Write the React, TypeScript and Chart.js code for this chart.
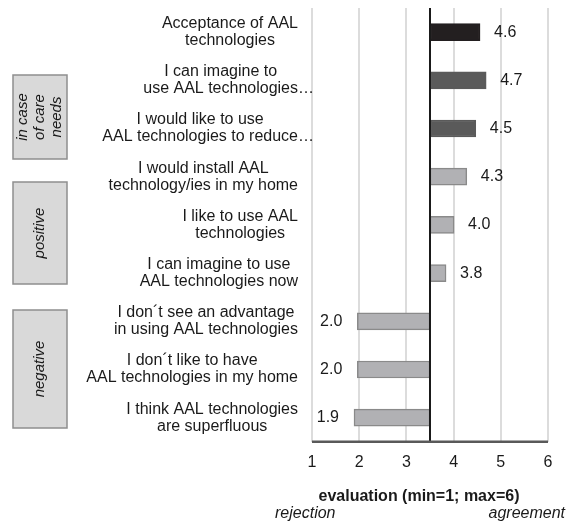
import React, { useEffect, useRef } from "react";
import { Chart, registerables } from "chart.js";

Chart.register(...registerables);

const categories: string[][] = [
  ["Acceptance of AAL", "technologies"],
  ["I can imagine to", "use AAL technologies…"],
  ["I would like to use", "AAL technologies to reduce…"],
  ["I would install AAL", "technology/ies in my home"],
  ["I like to use AAL", "technologies"],
  ["I can imagine to use", "AAL technologies now"],
  ["I don´t see an advantage", "in using AAL technologies"],
  ["I don´t like to have", "AAL technologies in my home"],
  ["I think AAL technologies", "are superfluous"],
];
const values: number[] = [4.56, 4.69, 4.47, 4.28, 4.01, 3.84, 1.96, 1.96, 1.89];
const baseline = 3.5;
const groupLabels: string[][] = [["in case", "of care", "needs"], ["positive"], ["negative"]];
const xTicks = [1, 2, 3, 4, 5, 6];
const axisTitle = "evaluation (min=1; max=6)";
const leftEnd = "rejection";
const rightEnd = "agreement";

// layout (pixels) for the group boxes: [top, bottom]
const groupBoxes: [number, number][] = [
  [75, 159],
  [182, 284],
  [310, 428],
];

const FONT = "'Liberation Sans', Arial, sans-serif";
const barFill = ["#231f20", "#5a5a5a", "#5a5a5a", "#b1b1b4", "#b1b1b4", "#b1b1b4", "#b1b1b4", "#b1b1b4", "#b1b1b4"];
const barBorder = ["#231f20", "#5a5a5a", "#5a5a5a", "#8a8a8a", "#8a8a8a", "#8a8a8a", "#8a8a8a", "#8a8a8a", "#8a8a8a"];

const decorPlugin = {
  id: "decor",
  afterDatasetsDraw(chart: any) {
    const { ctx, chartArea, scales } = chart;
    const x = scales.x;
    const y = scales.y;
    ctx.save();
    // baseline line
    const bx = x.getPixelForValue(baseline);
    ctx.strokeStyle = "#1a1a1a";
    ctx.lineWidth = 2;
    ctx.beginPath();
    ctx.moveTo(bx, chartArea.top);
    ctx.lineTo(bx, chartArea.bottom);
    ctx.stroke();
    // bottom axis line
    ctx.strokeStyle = "#595959";
    ctx.lineWidth = 2.5;
    ctx.beginPath();
    ctx.moveTo(chartArea.left, chartArea.bottom);
    ctx.lineTo(chartArea.right, chartArea.bottom);
    ctx.stroke();

    // value labels
    ctx.fillStyle = "#1a1a1a";
    ctx.font = `16px ${FONT}`;
    ctx.textBaseline = "middle";
    values.forEach((v, i) => {
      const py = y.getPixelForValue(i);
      const px = x.getPixelForValue(v);
      const txt = v.toFixed(1);
      if (v >= baseline) {
        ctx.textAlign = "left";
        ctx.fillText(txt, px + 14, py);
      } else {
        ctx.textAlign = "right";
        ctx.fillText(txt, px - 15, py);
      }
    });

    // category labels (centered lines, block right-aligned; ellipsis overflows)
    const rightEdge = chartArea.left - 14;
    ctx.font = `16px ${FONT}`;
    ctx.textAlign = "left";
    categories.forEach((lines, i) => {
      const py = y.getPixelForValue(i);
      const stripped = lines.map((l) => l.replace(/…$/, ""));
      const widths = stripped.map((l) => ctx.measureText(l).width);
      const w = Math.max(...widths);
      const cx = rightEdge - w / 2;
      const lh = 17;
      lines.forEach((l, k) => {
        ctx.fillText(l, cx - widths[k] / 2, py + (k - (lines.length - 1) / 2) * lh);
      });
    });

    // group boxes
    groupLabels.forEach((g, gi) => {
      const [top, bottom] = groupBoxes[gi];
      const left = 13;
      const width = 54;
      ctx.fillStyle = "#d9d9d9";
      ctx.fillRect(left, top, width, bottom - top);
      ctx.strokeStyle = "#8e8e8e";
      ctx.lineWidth = 1.5;
      ctx.strokeRect(left, top, width, bottom - top);
      ctx.save();
      ctx.translate(left + width / 2, (top + bottom) / 2);
      ctx.rotate(-Math.PI / 2);
      ctx.fillStyle = "#1a1a1a";
      ctx.font = `italic 15px ${FONT}`;
      ctx.textAlign = "center";
      ctx.textBaseline = "middle";
      const lh = 17;
      g.forEach((l, k) => {
        ctx.fillText(l, 0, (k - (g.length - 1) / 2) * lh);
      });
      ctx.restore();
    });

    // axis title and ends
    ctx.fillStyle = "#1a1a1a";
    ctx.textAlign = "center";
    ctx.textBaseline = "middle";
    ctx.font = `bold 16px ${FONT}`;
    ctx.fillText(axisTitle, 419, 497);
    ctx.font = `italic 16px ${FONT}`;
    ctx.textAlign = "left";
    ctx.fillText(leftEnd, 275, 514);
    ctx.textAlign = "right";
    ctx.fillText(rightEnd, 565, 514);
    ctx.restore();
  },
};

export default function App() {
  const ref = useRef<HTMLCanvasElement>(null);
  useEffect(() => {
    if (!ref.current) return;
    const chart = new Chart(ref.current, {
      type: "bar",
      data: {
        labels: categories.map((c) => c.join(" ")),
        datasets: [
          {
            data: values.map((v) => [baseline, v]) as any,
            backgroundColor: barFill,
            borderColor: barBorder,
            borderWidth: 1.5,
            borderSkipped: false,
            barThickness: 17,
          },
        ],
      },
      options: {
        indexAxis: "y",
        animation: false,
        responsive: false,
        maintainAspectRatio: false,
        layout: { padding: { left: 312, right: 18, top: 8, bottom: 41 } },
        plugins: {
          legend: { display: false },
          tooltip: { enabled: false },
          title: { display: false },
        },
        scales: {
          x: {
            type: "linear",
            min: 1,
            max: 6,
            afterBuildTicks: (s: any) => {
              s.ticks = xTicks.map((v) => ({ value: v }));
            },
            grid: { color: "#dcdcdc", lineWidth: 2, drawTicks: false },
            border: { display: false },
            ticks: {
              color: "#1a1a1a",
              font: { family: FONT, size: 16 },
              padding: 11,
              maxRotation: 0,
            },
          },
          y: {
            type: "category",
            display: false,
            offset: true,
          },
        },
      },
      plugins: [decorPlugin],
    });
    return () => chart.destroy();
  }, []);
  return (
    <div style={{ position: "fixed", left: 0, top: 0, width: 566, height: 524, background: "#fff" }}>
      <canvas ref={ref} width={566} height={524} style={{ width: 566, height: 524 }} />
    </div>
  );
}
